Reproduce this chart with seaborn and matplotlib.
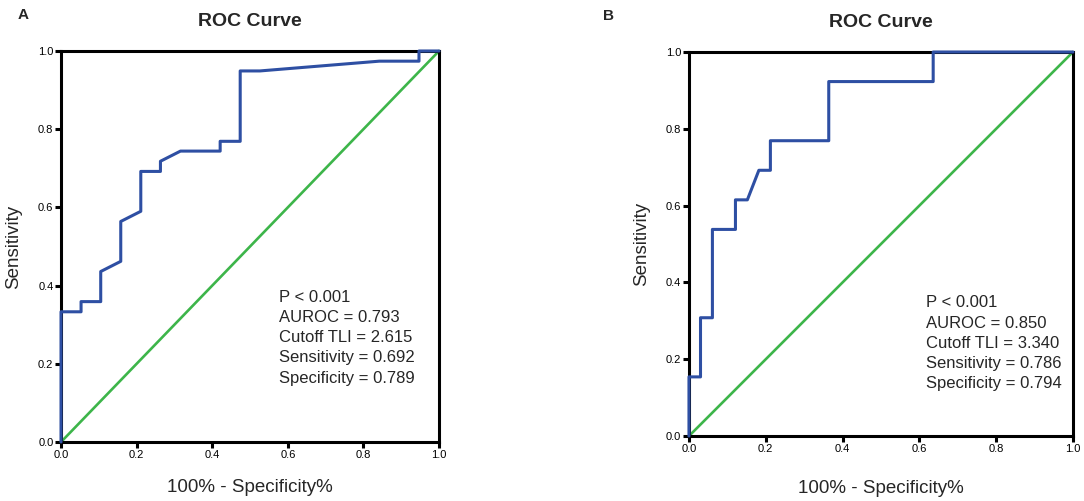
import pandas as pd
import matplotlib
matplotlib.use("Agg")
import matplotlib.pyplot as plt
import seaborn as sns

# Data: ROC step points (1 - specificity, sensitivity)
fpr_a = [0.0, 0.0, 0.053, 0.053, 0.105, 0.105, 0.158, 0.158, 0.211, 0.211,
         0.263, 0.263, 0.316, 0.421, 0.421, 0.474, 0.474, 0.526, 0.842, 0.947, 0.947, 1.0]
tpr_a = [0.0, 0.333, 0.333, 0.359, 0.359, 0.436, 0.462, 0.564, 0.590, 0.692,
         0.692, 0.718, 0.744, 0.744, 0.769, 0.769, 0.949, 0.949, 0.974, 0.974, 1.0, 1.0]

fpr_b = [0.0, 0.0, 0.030, 0.030, 0.061, 0.061, 0.121, 0.121, 0.152, 0.182,
         0.212, 0.212, 0.364, 0.364, 0.636, 0.636, 1.0]
tpr_b = [0.0, 0.154, 0.154, 0.308, 0.308, 0.538, 0.538, 0.615, 0.615, 0.692,
         0.692, 0.769, 0.769, 0.923, 0.923, 1.0, 1.0]

ref_line = [0.0, 1.0]

stats_a = ["P < 0.001", "AUROC = 0.793", "Cutoff TLI = 2.615",
           "Sensitivity = 0.692", "Specificity = 0.789"]
stats_b = ["P < 0.001", "AUROC = 0.850", "Cutoff TLI = 3.340",
           "Sensitivity = 0.786", "Specificity = 0.794"]

ticks = [0.0, 0.2, 0.4, 0.6, 0.8, 1.0]
tick_labels = ["0.0", "0.2", "0.4", "0.6", "0.8", "1.0"]

df_a = pd.DataFrame({"fpr": fpr_a, "tpr": tpr_a})
df_b = pd.DataFrame({"fpr": fpr_b, "tpr": tpr_b})
df_ref = pd.DataFrame({"x": ref_line, "y": ref_line})

sns.set_style("ticks")
plt.rcParams["font.family"] = ["Liberation Sans", "DejaVu Sans"]

blue = "#2E4FA3"
green = "#3DB54A"

fig = plt.figure(figsize=(10.84, 5.01), dpi=100)
ax_a = fig.add_axes([0.0563, 0.1178, 0.3487, 0.7804])
ax_b = fig.add_axes([0.6356, 0.1297, 0.3542, 0.7665])

panels = [
    (ax_a, df_a, stats_a, (0.577, 0.389), -0.103, -0.095),
    (ax_b, df_b, stats_b, (0.617, 0.366), -0.100, -0.115),
]

for ax, df, stats, txt_pos, ylab_x, xlab_y in panels:
    sns.lineplot(data=df_ref, x="x", y="y", ax=ax, color=green, linewidth=1.9,
                 estimator=None, sort=False, clip_on=False)
    sns.lineplot(data=df, x="fpr", y="tpr", ax=ax, color=blue, linewidth=2.2,
                 estimator=None, sort=False, clip_on=False, zorder=3)
    ax.set_xlim(0, 1)
    ax.set_ylim(0, 1)
    ax.set_xticks(ticks)
    ax.set_xticklabels(tick_labels)
    ax.set_yticks(ticks)
    ax.set_yticklabels(tick_labels)
    for sp in ax.spines.values():
        sp.set_visible(True)
        sp.set_linewidth(2.2)
        sp.set_color("black")
    ax.tick_params(axis="both", direction="out", length=4, width=2.2,
                   labelsize=8, pad=1.5, colors="black")
    ax.set_xlabel("100% - Specificity%", fontsize=13.5)
    ax.set_ylabel("Sensitivity", fontsize=13.5)
    ax.yaxis.set_label_coords(ylab_x, 0.5)
    ax.xaxis.set_label_coords(0.5, xlab_y)
    ax.set_title("ROC Curve", fontsize=14, fontweight="bold", y=1.065, pad=0)
    ax.text(txt_pos[0], txt_pos[1], "\n".join(stats), transform=ax.transAxes,
            fontsize=12, va="top", ha="left", linespacing=1.43)

fig.text(0.021, 0.97, "A", fontsize=11, fontweight="bold", ha="center", va="center")
fig.text(0.561, 0.968, "B", fontsize=11, fontweight="bold", ha="center", va="center")

fig.savefig("out.png", dpi=100)
